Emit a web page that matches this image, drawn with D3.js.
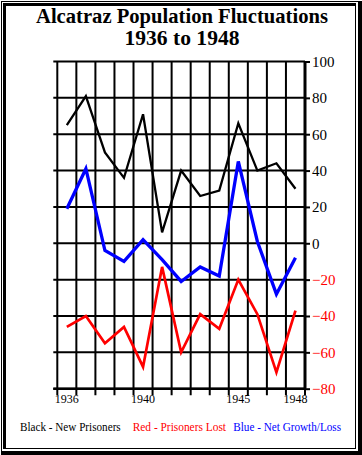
<!DOCTYPE html>
<html><head><meta charset="utf-8">
<script src="https://cdn.jsdelivr.net/npm/d3@7"></script>
<style>body{margin:0;background:#fff}svg{display:block}</style>
</head><body>
<script>
const years = [1936,1937,1938,1939,1940,1941,1942,1943,1944,1945,1946,1947,1948];
const newPrisoners = [65,81,50,36,71,6,40,26,29,66,40,44,30];
const prisonersLost = [-46,-40,-55,-46,-68,-13,-60,-39,-47,-20,-39,-71,-37];
const netGrowth = [19,41,-4,-10,2,-9,-21,-13,-18,45,1,-28,-8];
const yTicks = [100,80,60,40,20,0,-20,-40,-60,-80];
const xLabels = [1936,1940,1945,1948];
const titleLines = ["Alcatraz Population Fluctuations","1936 to 1948"];
const legendItems = [
  {text:"Black - New Prisoners", color:"#000000"},
  {text:"Red - Prisoners Lost", color:"#ff0000"},
  {text:"Blue - Net Growth/Loss", color:"#0000ff"}
];

(function(){
const W=362,H=455;
const svg=d3.select("body").append("svg").attr("width",W).attr("height",H);
svg.append("rect").attr("width",W).attr("height",H).attr("fill","#fff");

// frame
const frame=[[1,1,360,1],[1,1,1,453],[358,1,4,454],[1,451,361,4],
             [3,3,353,3],[3,3,3,446],[355,3,1,446],[3,448,353,1]];
svg.selectAll("rect.f").data(frame).enter().append("rect")
  .attr("x",d=>d[0]).attr("y",d=>d[1]).attr("width",d=>d[2]).attr("height",d=>d[3]).attr("fill","#000");

// title
const tLen=[292,115];
svg.selectAll("text.t").data(titleLines).enter().append("text")
  .attr("x",182).attr("y",(d,i)=>22.5+i*22.5).attr("text-anchor","middle")
  .attr("font-family","Liberation Serif, Times New Roman, serif").attr("font-weight","bold")
  .attr("font-size",20).attr("textLength",(d,i)=>tLen[i]).attr("lengthAdjust","spacingAndGlyphs").text(d=>d);

const pL=57.3,pR=305,pT=61.5,pB=388.7;
const x=d3.scaleBand().domain(years).range([pL,pR]);
const y=d3.scaleLinear().domain([-80,100]).range([pB,pT]);

const bounds=years.map(v=>x(v)).concat([pR]);
// horizontal grid
svg.selectAll("line.hg").data(yTicks).enter().append("line")
  .attr("x1",pL-4).attr("x2",pR).attr("y1",d=>y(d)).attr("y2",d=>y(d))
  .attr("stroke","#000").attr("stroke-width",2);
// vertical grid + ticks below
svg.selectAll("line.vg").data(bounds).enter().append("line")
  .attr("x1",d=>d).attr("x2",d=>d).attr("y1",pT).attr("y2",pB+6.5)
  .attr("stroke","#000").attr("stroke-width",2);
// bottom axis
svg.append("line").attr("x1",pL-4).attr("x2",pR+1).attr("y1",pB).attr("y2",pB)
  .attr("stroke","#000").attr("stroke-width",2.5);

// right axis
const ay=svg.append("g").attr("transform",`translate(${pR},0)`)
  .call(d3.axisRight(y).tickValues(yTicks).tickSize(5).tickPadding(2).tickFormat(d3.format("d")));
ay.select(".domain").attr("stroke","#000").attr("stroke-width",3).attr("d",`M0,${pT}V${pB}`);
ay.selectAll(".tick line").attr("stroke","#000").attr("stroke-width",2);
ay.selectAll(".tick text").attr("font-family","Liberation Serif, Times New Roman, serif")
  .attr("font-size",15).attr("fill",d=>d<0?"#ff0000":"#000");

// x labels
const ax=svg.append("g").attr("transform",`translate(0,${pB})`)
  .call(d3.axisBottom(x).tickValues(xLabels).tickSize(0).tickPadding(6));
ax.select(".domain").remove();
ax.selectAll(".tick text").attr("font-family","Liberation Serif, Times New Roman, serif")
  .attr("font-size",12).attr("fill","#000");

// lines
const series=[
  {vals:netGrowth,color:"#0000ff",w:3.3},
  {vals:prisonersLost,color:"#ff0000",w:2.7},
  {vals:newPrisoners,color:"#000000",w:2.3}
];
const line=d3.line().x((d,i)=>x(years[i])+x.bandwidth()/2).y(d=>y(d));
svg.selectAll("path.s").data(series).enter().append("path")
  .attr("d",d=>line(d.vals)).attr("fill","none").attr("stroke",d=>d.color)
  .attr("stroke-width",d=>d.w).attr("stroke-linejoin","miter");

// legend
const lx=[20,132.7,233.3], lw=[100.7,93.3,107.7];
svg.selectAll("text.l").data(legendItems).enter().append("text")
  .attr("x",(d,i)=>lx[i]).attr("y",430.7)
  .attr("font-family","Liberation Serif, Times New Roman, serif").attr("font-size",11.5)
  .attr("textLength",(d,i)=>lw[i]).attr("lengthAdjust","spacingAndGlyphs")
  .attr("fill",d=>d.color).text(d=>d.text);
})();
</script>
</body></html>
